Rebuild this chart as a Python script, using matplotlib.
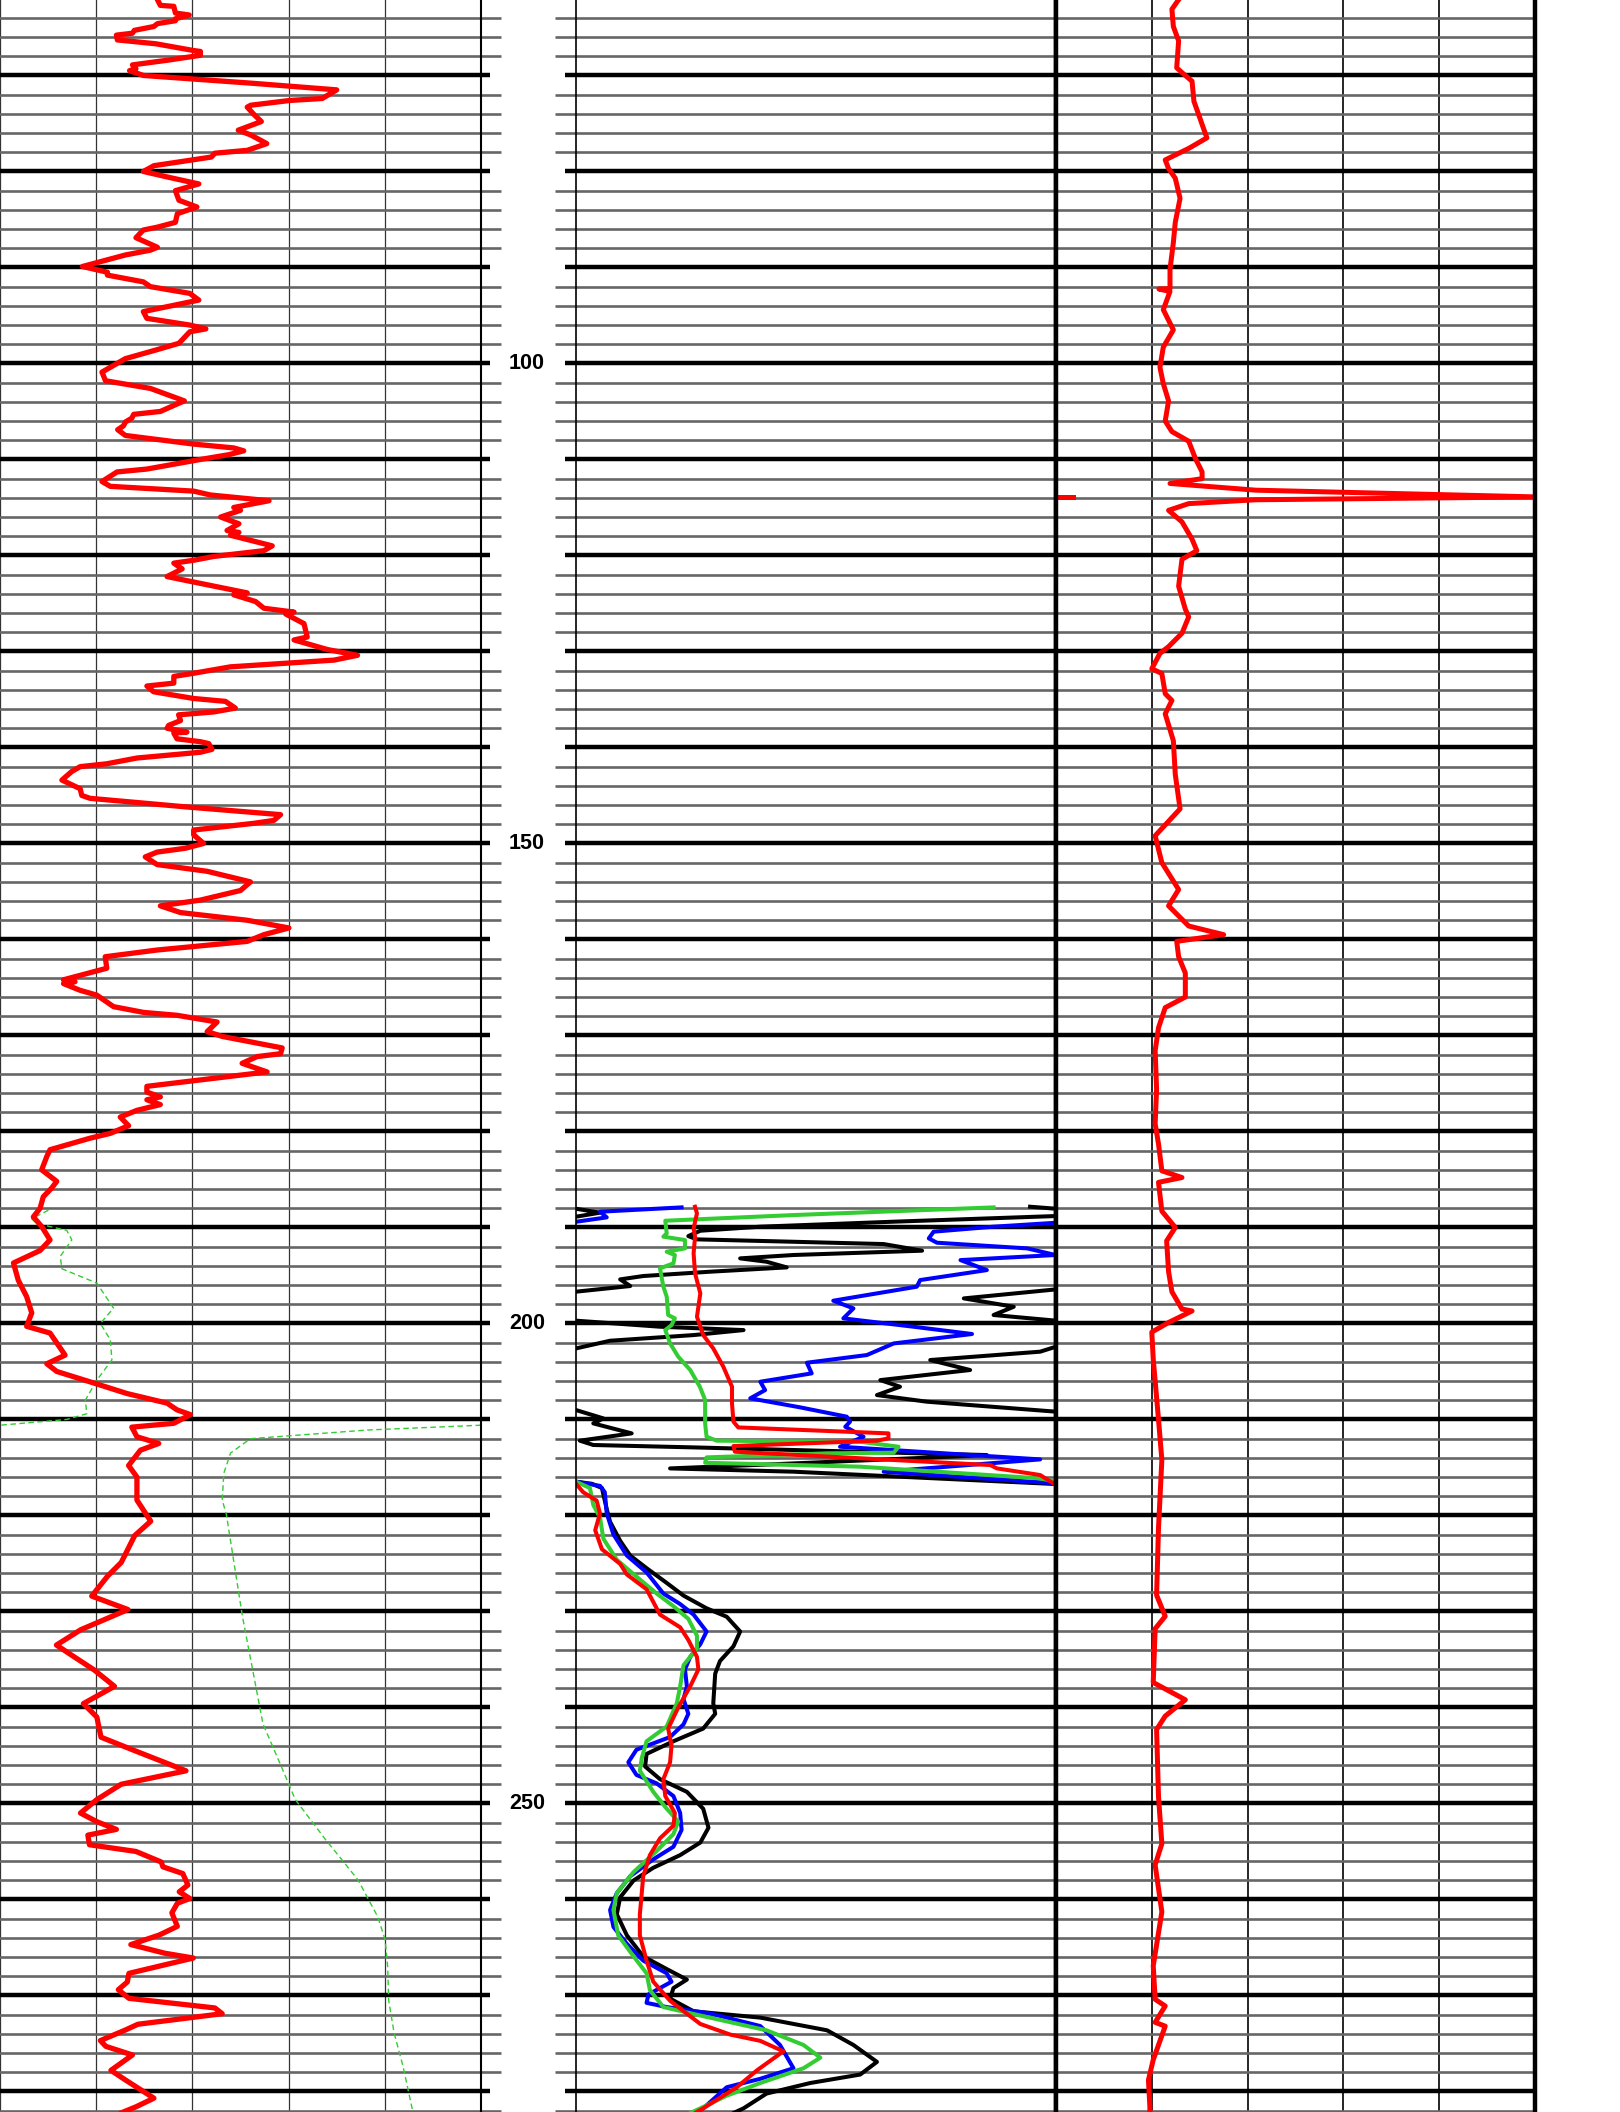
import numpy as np
import matplotlib
matplotlib.use("Agg")
import matplotlib.pyplot as plt
from matplotlib.ticker import MultipleLocator

# depth window shown on the log
top_depth = 62.14
base_depth = 282.14
depth_labels = [100, 150, 200, 250]
BRK = (np.nan, np.nan)   # break in a curve (wrap-around)

# track 1: red curve, scale 0-150  (depth, value)
gr = [
    (62.1, 49.1), (62.7, 50.0), (62.8, 54.2), (63.5, 54.7), (63.7, 59.0), (64.1, 54.7), (64.3, 54.7),
    (64.6, 49.1), (64.9, 48.0), (65.3, 41.9), (65.6, 41.3), (65.8, 36.3), (66.3, 36.6), (66.7, 48.6),
    (67.4, 60.3), (67.5, 62.5), (67.9, 62.5), (68.4, 52.5), (68.9, 41.3), (69.3, 42.4), (69.5, 40.4),
    (70.0, 44.7), (70.8, 78.2), (71.5, 105.0), (72.4, 100.5), (72.6, 90.5), (73.1, 78.2), (73.3, 77.1),
    (74.1, 79.3), (74.8, 81.5), (75.7, 74.3), (76.2, 78.2), (76.6, 80.4), (77.1, 83.2), (77.8, 77.1),
    (78.1, 67.0), (78.5, 65.9), (79.4, 48.0), (80.0, 44.7), (80.6, 52.5), (81.3, 62.0), (82.0, 54.7),
    (83.0, 55.8), (83.7, 61.4), (84.4, 55.3), (85.3, 54.7), (85.8, 49.1), (86.1, 44.7), (86.9, 42.4),
    (87.9, 49.1), (88.2, 46.9), (88.7, 39.1), (89.9, 25.7), (90.5, 33.5), (90.8, 33.5), (91.5, 44.7),
    (92.0, 46.9), (92.7, 59.2), (93.4, 62.0), (94.6, 44.7), (95.3, 45.8), (96.0, 59.2), (96.4, 64.2),
    (96.7, 59.2), (97.9, 55.8), (98.6, 48.6), (99.5, 39.1), (100.9, 31.8), (101.8, 32.9), (102.6, 46.9),
    (103.9, 57.5), (104.3, 54.7), (105.0, 50.0), (105.3, 41.7), (105.7, 41.1), (106.1, 39.1), (106.5, 38.5),
    (106.9, 36.7), (107.5, 39.1), (108.0, 51.0), (108.4, 60.4), (108.8, 72.9), (109.1, 76.0), (109.5, 71.4),
    (110.0, 62.5), (111.0, 45.8), (111.3, 36.5), (112.3, 31.8), (112.8, 34.4), (113.3, 60.4), (113.7, 65.6),
    (114.3, 83.9), (115.0, 72.9), (115.3, 75.0), (116.0, 68.8), (116.7, 74.5), (117.4, 70.8), (117.6, 74.5),
    (117.9, 71.9), (119.0, 84.9), (119.5, 82.3), (120.1, 66.7), (120.5, 60.4), (120.8, 54.2), (121.4, 56.8),
    (122.2, 52.1), (122.7, 59.4), (123.9, 77.1), (124.1, 72.9), (124.8, 79.7), (125.5, 82.3), (125.9, 91.7),
    (126.1, 89.1), (127.1, 94.8), (128.5, 95.8), (128.8, 91.7), (129.8, 102.1), (130.4, 111.5), (130.9, 104.2),
    (131.6, 71.9), (132.3, 59.9), (132.6, 54.2), (133.3, 54.2), (133.6, 45.8), (134.2, 47.9), (134.9, 60.4),
    (135.2, 70.3), (135.9, 73.4), (136.3, 66.7), (136.6, 55.7), (137.2, 56.3), (137.7, 52.6), (138.0, 52.1),
    (138.4, 58.3), (138.5, 54.2), (139.1, 55.2), (139.4, 62.5), (139.6, 65.1), (140.2, 66.1), (140.5, 62.5),
    (141.1, 42.7), (141.7, 33.3), (142.0, 25.0), (142.5, 22.4), (143.4, 19.3), (144.3, 25.0), (145.0, 25.5),
    (145.3, 28.1), (146.2, 58.3), (147.0, 87.5), (147.6, 85.4), (147.9, 79.2), (148.6, 60.4), (149.1, 60.4),
    (150.0, 63.5), (150.5, 57.8), (150.9, 49.0), (151.4, 45.3), (152.2, 49.0), (152.9, 64.6), (154.0, 78.1),
    (154.9, 75.0), (155.9, 62.5), (156.5, 50.0), (157.2, 56.3), (158.0, 77.1), (158.8, 90.1), (159.5, 82.3),
    (160.2, 77.1), (161.1, 49.0), (161.8, 32.8), (163.0, 33.3), (164.2, 19.8), (164.4, 23.4), (164.6, 19.8),
    (165.3, 25.0), (165.8, 30.2), (167.0, 35.4), (167.6, 44.8), (167.9, 55.2), (168.6, 67.7), (169.6, 64.6),
    (170.1, 69.3), (170.6, 77.1), (171.3, 88.0), (171.9, 87.5), (172.2, 80.2), (172.9, 75.5), (173.8, 83.3),
    (174.3, 70.8), (175.3, 45.8), (175.9, 45.8), (176.4, 50.0), (176.7, 45.8), (177.2, 50.0), (177.8, 42.7),
    (178.5, 37.5), (179.4, 40.1), (180.2, 34.4), (180.7, 28.1), (181.9, 15.6), (182.6, 14.6), (184.0, 13.0),
    (185.2, 17.7), (185.9, 16.1), (186.8, 13.5), (188.0, 12.5), (188.9, 10.4), (189.9, 13.0), (191.3, 15.6),
    (192.4, 12.5), (193.7, 4.2), (195.5, 5.7), (197.2, 8.3), (198.9, 9.9), (200.3, 8.3), (201.0, 15.6),
    (203.3, 20.3), (204.2, 14.6), (205.0, 17.7), (206.2, 29.2), (207.3, 39.6), (208.3, 52.1), (209.0, 55.2),
    (209.5, 59.4), (210.4, 54.2), (210.8, 41.1), (211.8, 42.7), (212.5, 49.5), (213.2, 43.8), (214.8, 40.1),
    (216.0, 42.7), (218.4, 42.7), (220.6, 47.0), (222.1, 42.0), (224.9, 37.8), (226.3, 33.6), (228.4, 28.6),
    (229.8, 39.9), (231.9, 25.2), (233.5, 17.6), (234.7, 23.0), (236.1, 29.4), (237.8, 35.7), (239.6, 26.0),
    (241.0, 30.2), (243.1, 31.5), (244.5, 42.0), (246.6, 58.0), (248.0, 37.8), (249.6, 30.2), (251.0, 25.1),
    (251.9, 30.2), (252.7, 36.3), (253.3, 27.4), (254.3, 27.9), (255.0, 42.4), (256.1, 50.3), (256.6, 50.8),
    (257.3, 57.0), (258.5, 58.6), (259.2, 55.9), (259.9, 59.2), (260.4, 55.3), (261.4, 53.6), (262.8, 55.3),
    (263.7, 49.7), (264.7, 40.8), (265.6, 51.4), (266.1, 60.3), (267.7, 40.2), (268.6, 39.7), (269.4, 36.9),
    (270.3, 40.2), (271.3, 67.0), (271.9, 69.3), (273.0, 43.0), (273.6, 39.1), (274.7, 31.3), (275.3, 33.0),
    (276.2, 41.3), (277.8, 34.6), (278.8, 39.1), (279.5, 42.4), (280.7, 48.0), (281.6, 42.4), (282.2, 38.0),
]

# track 1: green dashed curve, same scale
sp = [
    (188.2, 15.1), (189.1, 9.9), (189.6, 11.5), (190.3, 20.8), (191.3, 22.4), (193.0, 18.8), (194.3, 19.3),
    (195.8, 30.2), (198.4, 35.4), (200.0, 31.3), (201.7, 34.4), (203.8, 34.9), (205.9, 30.2), (208.0, 26.6),
    (209.4, 27.1), (210.0, 20.8), (210.6, 0.0), BRK,
    (210.6, 150.0), (211.1, 114.6), (212.0, 78.1), (213.5, 71.9), (215.6, 69.8), (218.4, 69.3), (219.9, 70.6),
    (230.5, 75.6), (241.7, 82.0), (245.9, 87.4), (249.6, 92.1), (253.8, 101.6), (256.1, 107.2), (258.0, 111.7),
    (261.8, 117.8), (264.2, 120.1), (267.0, 120.9), (270.5, 121.2), (273.9, 122.9), (277.4, 125.7),
    (282.2, 128.8),
]

# track 2: four curves, scale 0-1, wrapping at the edges
curve_black = [
    (187.84, 0.946), (188.05, 1.0), BRK,
    (188.05, 0.0), (188.46, 0.050), (188.88, 0.0), BRK,
    (188.81, 1.0), (189.40, 0.662), (189.92, 0.384), (190.34, 0.259), (190.90, 0.234), (191.24, 0.252),
    (191.49, 0.453), (191.73, 0.641), (192.42, 0.721), (192.87, 0.453), (193.22, 0.342), (193.57, 0.397),
    (194.16, 0.439), (194.61, 0.279), (195.06, 0.140), (195.41, 0.092), (196.10, 0.113), (196.69, 0.0), BRK,
    (196.45, 1.0), (197.39, 0.808), (198.26, 0.912), (199.12, 0.870), (199.71, 1.0), BRK,
    (199.71, 0.0), (200.34, 0.175), (200.69, 0.349), (201.21, 0.245), (201.80, 0.071), (202.60, 0.0), BRK,
    (202.42, 1.0), (202.94, 0.967), (203.81, 0.738), (204.85, 0.821), (205.90, 0.634), (206.59, 0.675),
    (207.46, 0.627), (208.15, 0.731), (209.19, 1.0), BRK,
    (209.02, 0.0), (209.89, 0.057), (210.41, 0.036), (211.45, 0.116), (212.21, 0.008), (212.66, 0.036),
    (212.91, 0.245), (213.71, 0.856), (214.58, 0.453), (215.10, 0.196), (215.44, 0.453), (216.73, 1.0), BRK,
    (216.48, 0.0), (216.70, 0.033), (217.14, 0.054), (219.34, 0.064), (220.66, 0.071), (222.64, 0.092),
    (224.18, 0.113), (225.49, 0.147), (227.03, 0.189), (228.35, 0.224), (229.67, 0.272), (230.55, 0.314),
    (232.09, 0.342), (233.63, 0.328), (235.16, 0.300), (236.48, 0.290), (239.56, 0.286), (240.66, 0.290),
    (242.20, 0.265), (243.52, 0.203), (244.84, 0.147), (246.15, 0.144), (247.47, 0.175), (248.79, 0.231),
    (250.55, 0.265), (252.53, 0.276), (254.07, 0.259), (255.38, 0.217), (256.70, 0.161), (258.02, 0.120),
    (259.78, 0.092), (261.54, 0.085), (263.74, 0.106), (265.93, 0.140), (267.25, 0.189), (268.35, 0.231),
    (269.23, 0.203), (270.33, 0.196), (271.65, 0.245), (272.31, 0.384), (273.63, 0.523), (275.16, 0.578),
    (276.92, 0.627), (278.24, 0.592), (279.12, 0.488), (280.22, 0.397), (281.76, 0.349), (282.2, 0.330),
]

curve_blue = [
    (187.91, 0.220), (188.36, 0.050), (188.95, 0.064), (189.40, 0.001), BRK,
    (189.51, 1.0), (189.92, 0.870), (190.44, 0.745), (191.14, 0.735), (191.59, 0.752), (192.18, 0.940),
    (192.87, 0.999), (193.40, 0.801), (194.44, 0.856), (195.48, 0.717), (196.17, 0.710), (197.63, 0.536),
    (198.43, 0.578), (199.47, 0.557), (200.34, 0.703), (201.10, 0.825), (202.08, 0.662), (203.29, 0.606),
    (204.09, 0.481), (205.20, 0.491), (206.07, 0.384), (206.94, 0.394), (207.80, 0.363), (208.74, 0.467),
    (209.71, 0.564), (210.23, 0.571), (210.76, 0.561), (211.80, 0.599), (212.84, 0.550), (214.16, 0.967),
    (215.44, 0.641), (216.66, 1.0), BRK,
    (216.48, 0.0), (216.92, 0.050), (217.58, 0.060), (219.78, 0.064), (221.98, 0.078), (224.18, 0.106),
    (225.93, 0.147), (228.13, 0.182), (229.23, 0.217), (230.33, 0.245), (232.09, 0.272), (233.41, 0.259),
    (234.73, 0.238), (236.04, 0.227), (237.80, 0.231), (239.12, 0.224), (240.66, 0.234), (241.76, 0.224),
    (243.08, 0.196), (244.40, 0.126), (245.71, 0.109), (247.03, 0.126), (247.91, 0.168), (249.23, 0.203),
    (250.99, 0.217), (252.75, 0.220), (254.51, 0.203), (255.82, 0.161), (257.58, 0.113), (259.34, 0.085),
    (261.10, 0.071), (262.86, 0.078), (264.62, 0.106), (266.37, 0.140), (267.69, 0.189), (268.57, 0.199),
    (269.23, 0.175), (269.89, 0.151), (270.77, 0.147), (271.21, 0.189), (271.87, 0.279), (273.19, 0.384),
    (275.16, 0.425), (277.58, 0.453), (278.68, 0.384), (279.56, 0.314), (281.76, 0.265), (282.2, 0.250),
]

curve_green = [
    (187.91, 0.870), (188.71, 0.453), (189.30, 0.186), (190.62, 0.189), (190.96, 0.182), (191.31, 0.227),
    (192.18, 0.227), (192.53, 0.189), (192.87, 0.206), (193.74, 0.203), (194.26, 0.175), (196.17, 0.182),
    (197.21, 0.189), (199.12, 0.192), (199.47, 0.206), (200.17, 0.199), (200.69, 0.186), (202.08, 0.196),
    (203.46, 0.213), (204.85, 0.238), (206.59, 0.258), (207.98, 0.269), (210.41, 0.269), (211.80, 0.272),
    (212.21, 0.293), (212.32, 0.592), (212.84, 0.672), (213.46, 0.662), (213.53, 0.523), (213.95, 0.272),
    (214.51, 0.269), (214.92, 0.592), (216.14, 0.967), (216.49, 1.0), BRK,
    (216.48, 0.0), (217.14, 0.029), (218.90, 0.036), (220.22, 0.050), (222.42, 0.057), (224.62, 0.085),
    (226.37, 0.126), (228.13, 0.168), (229.45, 0.203), (230.77, 0.234), (232.53, 0.252), (233.85, 0.252),
    (235.60, 0.224), (237.80, 0.217), (239.56, 0.210), (241.98, 0.189), (243.52, 0.147), (245.27, 0.137),
    (246.59, 0.133), (248.79, 0.161), (250.55, 0.189), (251.87, 0.213), (253.19, 0.203), (254.95, 0.168),
    (257.14, 0.120), (259.34, 0.085), (261.10, 0.078), (263.74, 0.088), (265.93, 0.120), (267.69, 0.147),
    (269.45, 0.154), (271.21, 0.182), (272.09, 0.259), (273.63, 0.397), (275.16, 0.474), (276.48, 0.509),
    (277.58, 0.474), (279.12, 0.384), (280.44, 0.314), (281.76, 0.259), (282.2, 0.240),
]

curve_red = [
    (187.84, 0.248), (188.53, 0.252), (190.10, 0.245), (190.96, 0.248), (192.70, 0.245), (194.78, 0.248),
    (196.87, 0.259), (199.30, 0.252), (201.21, 0.265), (202.60, 0.286), (204.51, 0.307), (206.59, 0.325),
    (208.33, 0.325), (210.23, 0.328), (210.83, 0.338), (211.45, 0.651), (211.97, 0.651), (212.21, 0.627),
    (212.77, 0.328), (213.36, 0.331), (214.75, 0.863), (215.10, 0.877), (215.79, 0.967), (216.83, 1.0), BRK,
    (216.70, 0.0), (217.58, 0.015), (218.46, 0.043), (219.78, 0.050), (221.54, 0.040), (223.52, 0.054),
    (225.05, 0.092), (226.15, 0.106), (227.69, 0.147), (230.33, 0.175), (231.65, 0.217), (232.97, 0.234),
    (234.73, 0.252), (236.04, 0.255), (237.80, 0.238), (240.00, 0.213), (242.20, 0.192), (243.96, 0.199),
    (245.71, 0.196), (247.47, 0.182), (249.23, 0.186), (250.99, 0.206), (252.31, 0.203), (253.63, 0.175),
    (255.38, 0.154), (257.58, 0.140), (259.34, 0.137), (261.54, 0.133), (263.74, 0.133), (266.37, 0.147),
    (268.57, 0.161), (270.55, 0.196), (272.97, 0.259), (274.07, 0.321), (274.73, 0.384), (275.82, 0.432),
    (277.80, 0.377), (279.56, 0.335), (281.76, 0.265), (282.2, 0.250),
]

# track 3: red curve, scale 0-1
curve_t3 = [
    (62.1, 0.256), (63.1, 0.242), (64.9, 0.245), (66.4, 0.256), (69.2, 0.252), (69.7, 0.263), (70.6, 0.284),
    (72.7, 0.288), (74.1, 0.298), (75.1, 0.305), (76.5, 0.315), (77.6, 0.277), (78.8, 0.228), (79.7, 0.235),
    (80.7, 0.249), (82.8, 0.259), (85.3, 0.249), (87.4, 0.245), (90.2, 0.238), (92.2, 0.238), (92.25, 0.215),
    (92.5, 0.238), (94.4, 0.224), (96.5, 0.245), (98.3, 0.224), (100.4, 0.217), (102.1, 0.224), (103.9, 0.235),
    (106.0, 0.228), (107.1, 0.242), (108.1, 0.277), (109.9, 0.291), (111.3, 0.305), (112.0, 0.305),
    (112.5, 0.238), (113.2, 0.417), (113.9, 1.0), (114.2, 0.417), (114.6, 0.277), (115.3, 0.235),
    (116.5, 0.263), (118.3, 0.284), (119.5, 0.294), (120.4, 0.263), (123.2, 0.256), (125.6, 0.270),
    (126.4, 0.277), (128.1, 0.263), (129.5, 0.235), (130.2, 0.217), (131.8, 0.200), (132.3, 0.221),
    (134.4, 0.228), (135.1, 0.242), (136.5, 0.228), (139.3, 0.245), (142.8, 0.249), (146.4, 0.259),
    (149.2, 0.207), (152.0, 0.221), (154.8, 0.256), (156.5, 0.235), (158.6, 0.277), (159.5, 0.350),
    (160.2, 0.252), (161.8, 0.256), (163.5, 0.270), (166.0, 0.270), (167.1, 0.228), (169.2, 0.214),
    (171.6, 0.207), (175.6, 0.210), (179.2, 0.207), (181.3, 0.214), (184.1, 0.221), (184.8, 0.263),
    (185.3, 0.214), (188.3, 0.221), (190.0, 0.249), (191.4, 0.231), (194.6, 0.235), (196.7, 0.242),
    (198.5, 0.263), (198.7, 0.284), (199.9, 0.235), (200.9, 0.200), (203.7, 0.203), (210.0, 0.214),
    (214.2, 0.221), (221.3, 0.214), (228.3, 0.210), (230.5, 0.228), (231.8, 0.207), (237.4, 0.203),
    (239.2, 0.270), (240.9, 0.228), (242.3, 0.210), (249.3, 0.214), (254.2, 0.221), (256.4, 0.207),
    (261.3, 0.221), (266.9, 0.203), (270.4, 0.207), (271.1, 0.228), (272.8, 0.207), (273.2, 0.228),
    (276.7, 0.203), (278.8, 0.193), (281.6, 0.196), (282.2, 0.196),
]
# wrapped tip of the spike at the left edge of track 3
spike_wrap = [(113.9, 0.0), (113.9, 0.035)]

W, H = 1620, 2112
fig = plt.figure(figsize=(W / 100, H / 100), dpi=100)

GRID_MINOR = '#666666'


def setup_track(ax, xmax, vgrid):
    ax.set_xlim(0, xmax)
    ax.set_ylim(base_depth, top_depth)
    ax.yaxis.set_major_locator(MultipleLocator(10))
    ax.yaxis.set_minor_locator(MultipleLocator(2))
    ax.grid(which='major', axis='y', color='black', lw=3.2)
    ax.grid(which='minor', axis='y', color=GRID_MINOR, lw=1.9)
    if vgrid:
        ax.xaxis.set_major_locator(MultipleLocator(xmax / 5))
        ax.grid(which='major', axis='x', color='#333333', lw=0.9)
    ax.tick_params(axis='x', which='both', bottom=False, top=False,
                   labelbottom=False)
    ax.tick_params(axis='y', which='both', left=False, right=False,
                   labelleft=False, labelright=False)
    ax.set_axisbelow(True)
    for s in ('top', 'bottom'):
        ax.spines[s].set_visible(False)


def plot_curve(ax, data, **kw):
    arr = np.array(data, dtype=float)
    ax.plot(arr[:, 1], arr[:, 0], solid_joinstyle='round', **kw)


# track 1
ax1 = fig.add_axes([0 / W, 0, 481 / W, 1])
setup_track(ax1, 150, True)
ax1.spines['left'].set_visible(False)
ax1.spines['right'].set_linewidth(1.5)
ax1.tick_params(axis='y', which='major', right=True, direction='out',
                length=6.5, width=3.2, color='black')
ax1.tick_params(axis='y', which='minor', right=True, direction='out',
                length=14.5, width=1.9, color=GRID_MINOR)
plot_curve(ax1, sp, color='#33cc33', lw=1.0, dashes=(4, 2.5))
plot_curve(ax1, gr, color='red', lw=3.8)

for d in depth_labels:
    ax1.text(527 / 481, d, str(d), transform=ax1.get_yaxis_transform(),
             ha='center', va='center', fontsize=15.5, fontweight='bold',
             family='Liberation Sans', clip_on=False)

# track 2
ax2 = fig.add_axes([576 / W, 0, 480 / W, 1])
setup_track(ax2, 1.0, False)
ax2.spines['left'].set_linewidth(1.2)
ax2.spines['right'].set_linewidth(3.2)
ax2.tick_params(axis='y', which='major', left=True, direction='out',
                length=8, width=3.2, color='black')
ax2.tick_params(axis='y', which='minor', left=True, direction='out',
                length=15, width=1.9, color=GRID_MINOR)
plot_curve(ax2, curve_black, color='black', lw=2.9)
plot_curve(ax2, curve_blue, color='#0000ff', lw=2.9)
plot_curve(ax2, curve_green, color='#33cc33', lw=2.9)
plot_curve(ax2, curve_red, color='red', lw=2.9)

# track 3
ax3 = fig.add_axes([1056 / W, 0, 479 / W, 1])
setup_track(ax3, 1.0, True)
ax3.grid(which='major', axis='x', color='black', lw=1.2)
ax3.spines['left'].set_linewidth(3.2)
ax3.spines['right'].set_linewidth(3.2)
plot_curve(ax3, curve_t3, color='red', lw=3.6)
plot_curve(ax3, spike_wrap, color='red', lw=3.6)

fig.savefig('out.png', dpi=100)
